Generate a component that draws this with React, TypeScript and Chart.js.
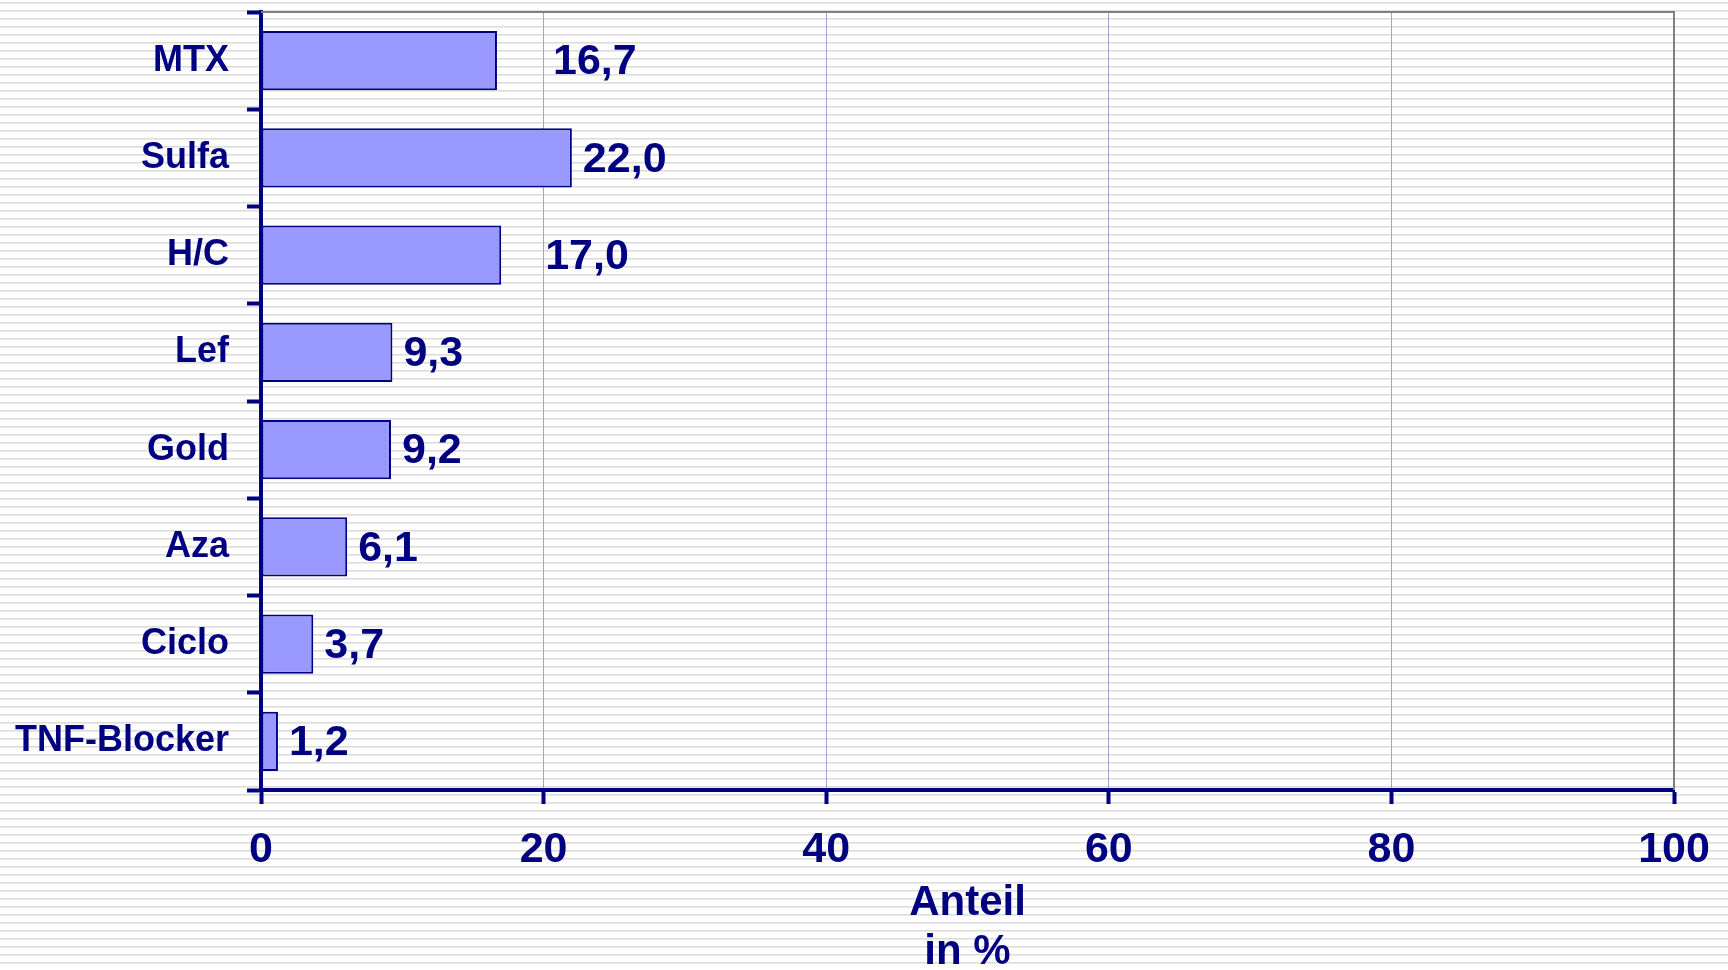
import React, { useEffect, useRef } from 'react';
import { Chart, registerables } from 'chart.js';

Chart.register(...registerables);

// ---- data ----
const categories = ['MTX', 'Sulfa', 'H/C', 'Lef', 'Gold', 'Aza', 'Ciclo', 'TNF-Blocker'];
const shares = [16.7, 22.0, 17.0, 9.3, 9.2, 6.1, 3.7, 1.2];
const xTickValues = [0, 20, 40, 60, 80, 100];
const axisTitle = ['Anteil', 'in %'];

// ---- style ----
const NAVY = '#000080';
const BAR_FILL = '#9999ff';
const GRID = '#a3a3c8';
const FONT = '"Liberation Sans", Arial, Helvetica, sans-serif';
const labelExtraShift = [45, 0, 33, 0, 0, 0, 0, 0];

const frameAndLabels = {
  id: 'frameAndLabels',
  beforeDatasetsDraw(chart: any) {
    const { ctx, chartArea } = chart;
    ctx.save();
    ctx.strokeStyle = '#808080';
    ctx.lineWidth = 2;
    ctx.beginPath();
    ctx.moveTo(chartArea.left, chartArea.top);
    ctx.lineTo(chartArea.right, chartArea.top);
    ctx.lineTo(chartArea.right, chartArea.bottom);
    ctx.stroke();
    ctx.restore();
  },
  afterDatasetsDraw(chart: any) {
    const { ctx } = chart;
    const meta = chart.getDatasetMeta(0);
    ctx.save();
    ctx.fillStyle = NAVY;
    ctx.font = `bold 43px ${FONT}`;
    ctx.textAlign = 'left';
    ctx.textBaseline = 'middle';
    meta.data.forEach((bar: any, i: number) => {
      const v = shares[i];
      const text = v.toFixed(1).replace('.', ',');
      ctx.fillText(text, bar.x + 11 + (labelExtraShift[i] || 0), bar.y + 2);
    });
    ctx.restore();
  },
};

export default function App() {
  const canvasRef = useRef<HTMLCanvasElement | null>(null);

  useEffect(() => {
    document.body.style.margin = '0';
    const canvas = canvasRef.current;
    if (!canvas) return;
    const chart = new Chart(canvas, {
      type: 'bar',
      data: {
        labels: categories,
        datasets: [
          {
            data: shares,
            backgroundColor: BAR_FILL,
            borderColor: NAVY,
            borderWidth: 2,
            borderSkipped: false,
            categoryPercentage: 1,
            barPercentage: 0.61,
          },
        ],
      },
      options: {
        indexAxis: 'y',
        responsive: false,
        animation: false,
        devicePixelRatio: 1,
        layout: { padding: { top: 12, right: 54, left: 0, bottom: 0 } },
        plugins: {
          legend: { display: false },
          tooltip: { enabled: false },
        },
        scales: {
          x: {
            type: 'linear',
            min: 0,
            max: 100,
            afterBuildTicks(scale: any) {
              scale.ticks = xTickValues.map((v) => ({ value: v }));
            },
            afterFit(scale: any) {
              scale.height = 180;
              scale.paddingLeft = 0;
              scale.paddingRight = 0;
            },
            grid: {
              color: GRID,
              lineWidth: 1,
              drawTicks: true,
              tickLength: 14,
              tickColor: NAVY,
              tickWidth: 4,
            },
            border: { display: true, color: NAVY, width: 4 },
            ticks: {
              color: NAVY,
              padding: 20,
              maxRotation: 0,
              font: { family: FONT, size: 43, weight: 'bold' },
            },
            title: {
              display: true,
              text: axisTitle,
              color: NAVY,
              padding: { top: 0, bottom: -7 },
              font: { family: FONT, size: 42, weight: 'bold', lineHeight: 1.17 },
            },
          },
          y: {
            afterFit(scale: any) {
              scale.width = 261;
              scale.paddingTop = 0;
              scale.paddingBottom = 0;
            },
            grid: {
              display: true,
              drawOnChartArea: false,
              drawTicks: true,
              tickLength: 14,
              tickColor: NAVY,
              tickWidth: 4,
              offset: true,
            },
            border: { display: true, color: NAVY, width: 4 },
            ticks: {
              color: NAVY,
              padding: 18,
              font: { family: FONT, size: 36, weight: 'bold' },
            },
          },
        },
      },
      plugins: [frameAndLabels],
    } as any);
    return () => chart.destroy();
  }, []);

  return (
    <div
      style={{
        position: 'fixed',
        left: 0,
        top: 0,
        width: 1728,
        height: 970,
        background:
          'repeating-linear-gradient(to bottom, #ffffff 0px, #ffffff 2px, #dcdcdc 2px, #dcdcdc 3px, #ebebeb 3px, #ebebeb 4px, #ffffff 4px, #ffffff 8px)',
      }}
    >
      <canvas ref={canvasRef} width={1728} height={970} style={{ display: 'block' }} />
    </div>
  );
}
